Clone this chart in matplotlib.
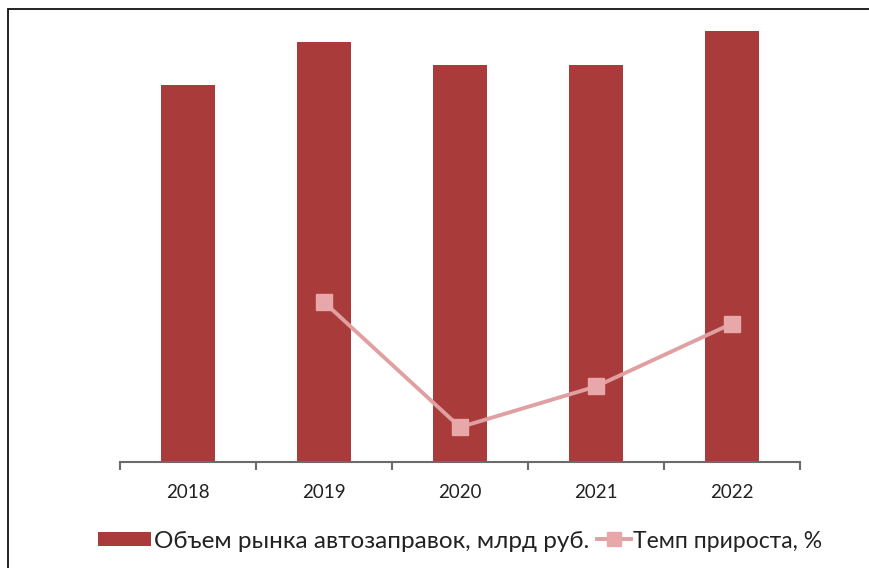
import numpy as np
import matplotlib
matplotlib.use("Agg")
import matplotlib.pyplot as plt
from matplotlib.patches import Rectangle

plt.rcParams['font.family'] = ['Lato', 'DejaVu Sans']

# data (bar scale estimated, no axis values shown)
years = ["2018", "2019", "2020", "2021", "2022"]
market_volume = [2450, 2730, 2580, 2580, 2800]
growth_rate = [np.nan, 11.4, -5.5, 0.0, 8.5]

bar_color = "#A93B3A"
line_color = "#E0A0A2"

fig = plt.figure(figsize=(8.69, 5.68), dpi=100)
ax = fig.add_axes([120 / 869, 1 - 462 / 568, 680 / 869, 442 / 568])

x = np.arange(len(years))
bars = ax.bar(x, market_volume, width=0.40, color=bar_color,
              label="Объем рынка автозаправок, млрд руб.", zorder=2)
ax.set_ylim(0, 2872)
ax.set_xlim(-0.5, len(years) - 0.5)

# secondary axis for the growth line
ax2 = ax.twinx()
line, = ax2.plot(x, growth_rate, color=line_color, linewidth=2.8,
                 marker="s", markersize=11, markerfacecolor="#E8A8AA",
                 markeredgecolor="#E8A8AA", label="Темп прироста, %", zorder=3)
ax2.set_ylim(-10.2, 49.5)
ax2.axis("off")

for side in ["top", "right", "left"]:
    ax.spines[side].set_visible(False)
ax.spines["bottom"].set_color("#6b6b6b")
ax.spines["bottom"].set_linewidth(1.5)
ax.set_yticks([])

ax.set_xticks(x)
ax.set_xticklabels(years, fontsize=13.5, color="#222222")
ax.tick_params(axis="x", which="major", length=0, pad=16)
ax.set_xticks(np.arange(-0.5, len(years), 1.0), minor=True)
ax.tick_params(axis="x", which="minor", length=6, width=1.5, color="#6b6b6b",
               direction="out")

# two legend entries placed separately so the handles can differ in length
leg1 = fig.legend([bars], [bars.get_label()], loc="center left",
                  bbox_to_anchor=(76 / 869, 1 - 541 / 568), frameon=False,
                  fontsize=17.5, handlelength=2.2, handleheight=0.5,
                  handletextpad=0.1, labelcolor="#222222")
leg2 = fig.legend([line], [line.get_label()], loc="center left",
                  bbox_to_anchor=(576 / 869, 1 - 541 / 568), frameon=False,
                  fontsize=16.5, handlelength=1.5, handletextpad=0.1,
                  labelcolor="#222222", markerscale=0.9)

# outer frame (right and bottom edges lie outside the picture)
fig.patches.append(Rectangle((8 / 869, -0.1), 1.2, 1.1 - 9 / 568,
                             transform=fig.transFigure, fill=False,
                             edgecolor="#111111", linewidth=1.3))

fig.savefig("out.png", dpi=100)
